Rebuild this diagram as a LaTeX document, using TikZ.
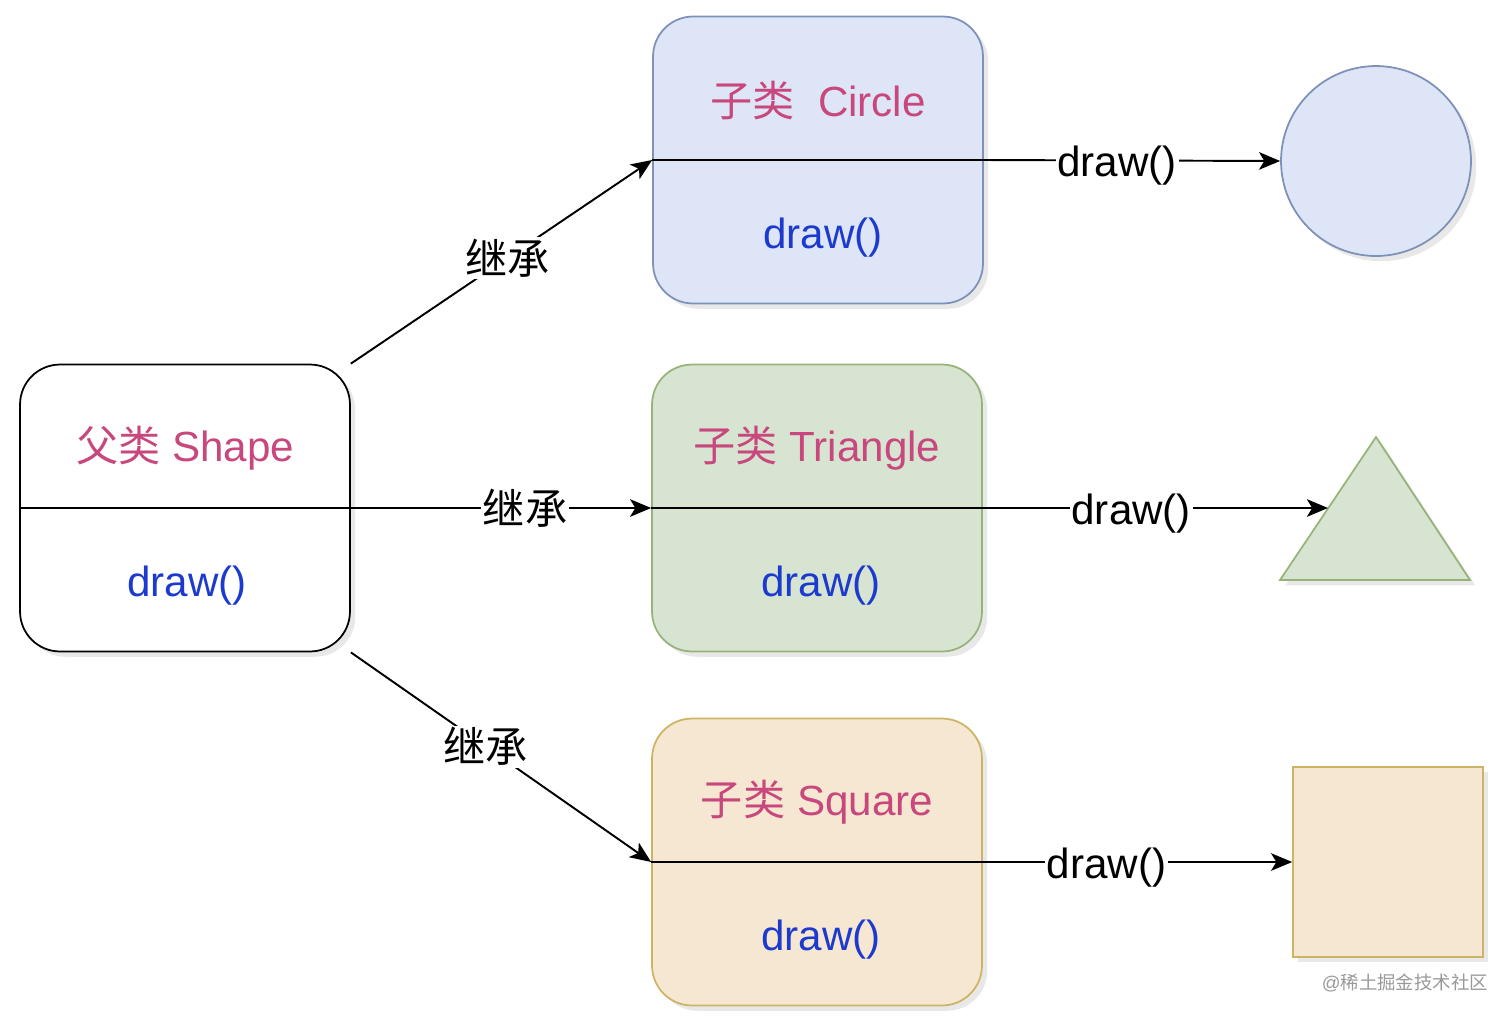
\documentclass[tikz,border=0pt]{standalone}
\usepackage{fontspec}
\setmainfont{Liberation Sans}
\newfontfamily\zhfont{Noto Sans CJK SC}
\usepackage{xcolor}
\usepackage{tikz}
\usetikzlibrary{arrows.meta, positioning, shadows}

\definecolor{titlepink}{RGB}{200,72,125}
\definecolor{methodblue}{RGB}{28,58,205}
\definecolor{bluefill}{RGB}{221,229,246}
\definecolor{blueline}{RGB}{125,145,185}
\definecolor{greenfill}{RGB}{215,228,210}
\definecolor{greenline}{RGB}{150,180,120}
\definecolor{orangefill}{RGB}{246,231,210}
\definecolor{orangeline}{RGB}{205,180,100}

\begin{document}
\begin{tikzpicture}[x=0.02cm, y=-0.02cm,
        base/.style={draw, rectangle, rounded corners=0.8cm, minimum width=6.6cm, minimum height=5.74cm, line width=1pt, drop shadow={opacity=0.18, shadow xshift=3pt, shadow yshift=-3pt}},
        parentbox/.style={base, fill=white, draw=black},
        circlebox/.style={base, fill=bluefill, draw=blueline},
        trianglebox/.style={base, fill=greenfill, draw=greenline},
        squarebox/.style={base, fill=orangefill, draw=orangeline},
        title/.style={font=\fontsize{24}{28}\selectfont, text=titlepink},
        method/.style={font=\fontsize{24}{28}\selectfont, text=methodblue},
        arrow/.style={-{Stealth[length=12pt, width=10pt, inset=3pt]}, line width=1.1pt, draw=black},
        edgelabel/.style={font=\fontsize{24}{28}\selectfont, fill=white, inner sep=1pt},
        calllabel/.style={edgelabel, yshift=-3pt},
        watermark/.style={font=\fontsize{10.5}{13}\selectfont, text=gray!80}
    ]
    \useasboundingbox (0,0) rectangle (1512,1019);

    % Parent Class
    \node[parentbox] (shape) at (185,508) {};
    \node[title] (shapetitle) at (185,448) {{\zhfont 父类} Shape};
    \node[method] (shapedraw) at (187,586) {draw()};
    \draw[line width=1pt] (shape.west) -- (shape.east);

    % Child Classes
    \node[circlebox] (circlecls) at (818,160) {};
    \node[title] (circletitle) at (818,100) {{\zhfont 子类}\ \ Circle};
    \node[method] (circledraw) at (823,238) {draw()};
    \draw[line width=1pt] (circlecls.west) -- (circlecls.east);

    \node[trianglebox] (trianglecls) at (817,508) {};
    \node[title] (triangletitle) at (817,448) {{\zhfont 子类} Triangle};
    \node[method] (triangledraw) at (821,586) {draw()};
    \draw[line width=1pt] (trianglecls.west) -- (trianglecls.east);

    \node[squarebox] (squarecls) at (817,862) {};
    \node[title] (squaretitle) at (817,802) {{\zhfont 子类} Square};
    \node[method] (squaredraw) at (821,940) {draw()};
    \draw[line width=1pt] (squarecls.west) -- (squarecls.east);

    % Shapes
    \node[draw=blueline, fill=bluefill, circle, minimum size=3.8cm, line width=1pt, drop shadow={opacity=0.18, shadow xshift=3pt, shadow yshift=-3pt}] (circleshape) at (1376,161) {};
    \coordinate (triapex) at (1376,437);
    \coordinate (trileft) at (1280,580);
    \coordinate (triright) at (1470,580);
    \coordinate (trihit) at (1328,508);
    \draw[draw=greenline, fill=greenfill, line width=1pt, drop shadow={opacity=0.18, shadow xshift=3pt, shadow yshift=-3pt}] (triapex) -- (trileft) -- (triright) -- cycle;
    \node[draw=orangeline, fill=orangefill, rectangle, minimum size=3.8cm, line width=1pt, drop shadow={opacity=0.18, shadow xshift=3pt, shadow yshift=-3pt}] (squareshape) at (1388,862) {};

    % Inheritance Arrows
    \draw[arrow] (shape.north east) -- node[edgelabel, pos=0.52] {\zhfont 继承} (circlecls.west);
    \draw[arrow] (shape.east) -- node[edgelabel, pos=0.58] {\zhfont 继承} (trianglecls.west);
    \draw[arrow] (shape.south east) -- node[edgelabel, pos=0.45] {\zhfont 继承} (squarecls.west);

    % Draw Arrows
    \draw[arrow] (circlecls.east) -- node[calllabel, pos=0.45] {draw()} (circleshape.west);
    \draw[arrow] (trianglecls.east) -- node[calllabel, pos=0.43] {draw()} (trihit);
    \draw[arrow] (squarecls.east) -- node[calllabel, pos=0.4] {draw()} (squareshape.west);

    % Watermark
    \node[watermark] (wm) at (1405,983) {@{\zhfont 稀土掘金技术社区}};
\end{tikzpicture}
\end{document}
